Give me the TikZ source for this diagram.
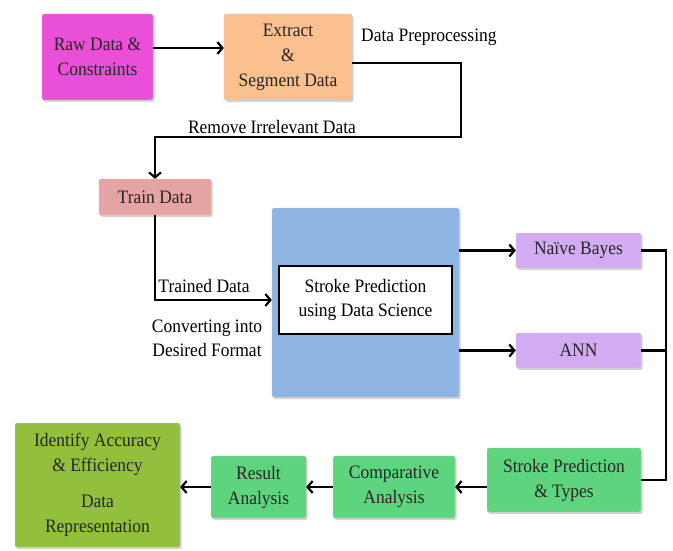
\documentclass[tikz,border=0pt]{standalone}
\usepackage{fontspec}
\setmainfont[FakeStretch=0.92]{Liberation Serif}
\usetikzlibrary{arrows.meta,shadows}
\definecolor{rawc}{HTML}{E94FD7}
\definecolor{extractc}{HTML}{FAC090}
\definecolor{trainc}{HTML}{E6A3A3}
\definecolor{scic}{HTML}{8DB4E2}
\definecolor{algoc}{HTML}{D3ABF2}
\definecolor{greenc}{HTML}{5ED47F}
\definecolor{olivec}{HTML}{92C03C}
\tikzstyle{block}=[draw=black!20, rounded corners=1.5pt, align=center, inner sep=0pt,
    drop shadow={opacity=0.35, shadow xshift=1.5pt, shadow yshift=-2pt},
    text=black!85, font=\fontsize{19}{25}\selectfont]
\tikzstyle{label}=[inner sep=1pt, align=center, font=\fontsize{19}{24}\selectfont]
\tikzstyle{link}=[draw, line width=2.2pt, ->]
\tikzstyle{wire}=[draw, line width=2.2pt]
\newcommand{\block}{\node[block]}

\begin{document}
\begin{tikzpicture}[x=1pt, y=-1pt, >={Straight Barb[length=5pt,width=12pt,line width=2.2pt]}]
\useasboundingbox (0,0) rectangle (673,551);
% boxes
\block[fill=rawc, minimum width=111pt, minimum height=86pt] (raw) at (97.5,57) {Raw Data \&\\Constraints};
\block[fill=extractc, minimum width=128pt, minimum height=86pt] (extract) at (288,57) {Extract\\\&\\Segment Data};
\block[fill=trainc, minimum width=112pt, minimum height=36pt] (train) at (155,197) {Train Data};
\block[fill=scic, minimum width=187pt, minimum height=189pt] (sci) at (365.5,302.5) {};
\node[draw, line width=2pt, fill=white, align=center, minimum width=173pt, minimum height=68pt,
    font=\fontsize{19}{24}\selectfont] (inner) at (365.5,299.5) {Stroke Prediction\\using Data Science};
\block[fill=algoc, minimum width=125pt, minimum height=35pt] (nb) at (578.5,250.5) {Na\"{\i}ve Bayes};
\block[fill=algoc, minimum width=125pt, minimum height=35pt] (ann) at (578.5,350.5) {ANN};
\block[fill=greenc, minimum width=154pt, minimum height=64pt] (types) at (564,480) {Stroke Prediction\\\& Types};
\block[fill=greenc, minimum width=122pt, minimum height=62pt] (comp) at (394,487) {Comparative\\Analysis};
\block[fill=greenc, minimum width=95pt, minimum height=62pt] (result) at (258.5,487) {Result\\Analysis};
\block[fill=olivec, minimum width=165pt, minimum height=124pt] (ident) at (97.5,485) {Identify Accuracy\\\& Efficiency\\[11pt]Data\\Representation};
% labels
\node[label, anchor=west] (lprep) at (360,37) {Data Preprocessing};
\node[label] (lremove) at (272,127) {Remove Irrelevant Data};
\node[label] (ltrained) at (204,286) {Trained Data};
\node[label] (lconvert) at (207,338) {Converting into\\Desired Format};
% bends
\coordinate (c1) at (461,63);
\coordinate (c2) at (461,137);
\coordinate (c3) at (155,137);
\coordinate (bus) at (666,480);
% connectors
\path[link] ([yshift=9pt]raw.east) -- ([yshift=9pt]extract.west);
\path[link] ([yshift=-6pt]extract.east) -- (c1) -- (c2) -- (c3) -- (train.north);
\path[link] (train.south) |- ([yshift=2.5pt]sci.west);
\path[link] (sci.east |- nb) -- (nb.west);
\path[link] (sci.east |- ann) -- (ann.west);
\path[wire] (nb.east) -| (bus) -- (types.east);
\path[wire] (ann.east) -- (ann.east -| bus);
\path[link] (types.west |- comp) -- (comp.east);
\path[link] (comp.west) -- (result.east);
\path[link] (result.west) -- (result.west -| ident.east);
\end{tikzpicture}
\end{document}
